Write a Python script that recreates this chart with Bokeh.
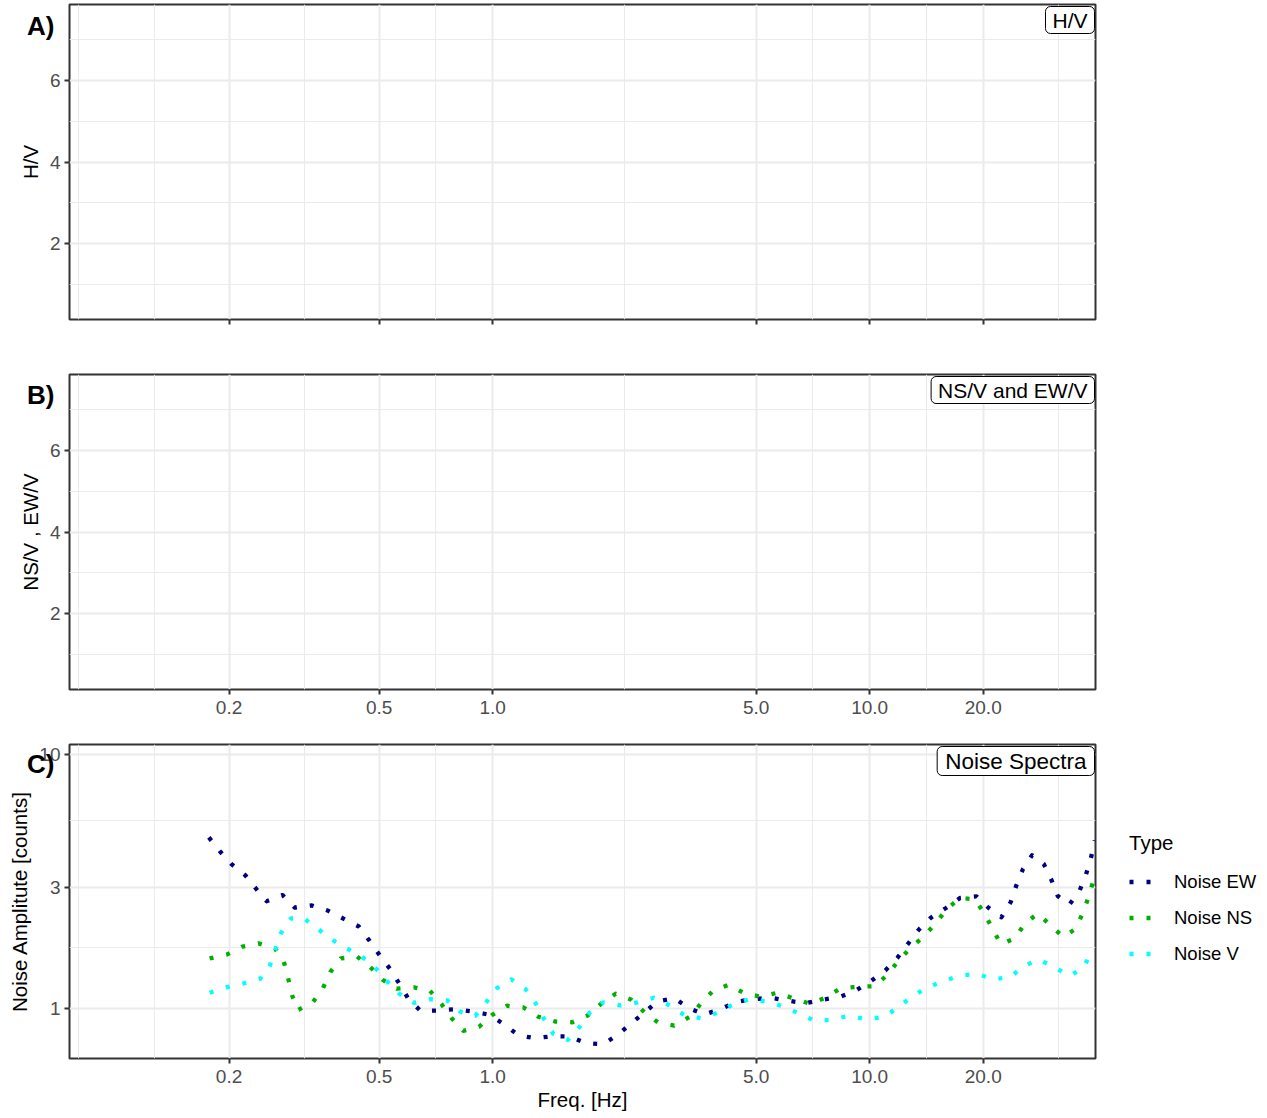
from bokeh.plotting import figure
from bokeh.models import (Range1d, FixedTicker, Label, Legend, LegendItem,
                          CustomJSTickFormatter, Div)
from bokeh.layouts import column
from bokeh.embed import file_html
from bokeh.resources import INLINE

FONT = "Liberation Sans"

# ---------------- data ----------------
x_major = [0.2, 0.5, 1, 5, 10, 20]
x_minor = [0.08, 0.1265, 0.3162, 0.7071, 2.236, 7.071, 14.14, 31.62]
ratio_major = [2, 4, 6]
ratio_minor = [1, 3, 5, 7]
amp_major = [1, 3, 10]
amp_minor = [1.732, 5.477]

freq_ew = [0.1768, 0.1891, 0.2031, 0.2208, 0.2361, 0.2515, 0.2773, 0.2990, 0.3317, 0.3666,
           0.4032, 0.4418, 0.4710, 0.5015, 0.5347, 0.5667, 0.5988, 0.6442, 0.7159, 0.7943,
           0.8850, 0.9818, 1.074, 1.170, 1.295, 1.440, 1.603, 1.768, 1.962, 2.146,
           2.333, 2.531, 2.745, 3.034, 3.311, 3.643, 4.025, 4.430, 4.915, 5.470,
           6.085, 6.766, 7.506, 8.341, 9.220, 10.10, 11.00, 11.85, 12.64, 13.49,
           14.54, 15.94, 17.36, 19.19, 20.69, 22.35, 23.66, 24.49, 25.50, 26.95,
           28.94, 30.34, 31.53, 33.86, 35.99, 37.48, 38.64, 39.53]
amp_ew = [4.70, 4.15, 3.69, 3.34, 2.95, 2.64, 2.79, 2.49, 2.54, 2.42,
          2.25, 2.10, 1.85, 1.62, 1.43, 1.246, 1.088, 0.979, 0.982, 0.994,
          0.973, 0.944, 0.865, 0.785, 0.764, 0.778, 0.776, 0.730, 0.723, 0.788,
          0.875, 0.967, 1.068, 1.098, 1.003, 0.947, 0.994, 1.063, 1.088, 1.102,
          1.072, 1.049, 1.082, 1.112, 1.180, 1.285, 1.411, 1.584, 1.797, 2.040,
          2.276, 2.483, 2.719, 2.760, 2.483, 2.282, 2.621, 3.050, 3.535, 4.003,
          3.700, 3.200, 2.768, 2.561, 2.896, 3.370, 3.921, 4.574]

freq_ns = [0.1776, 0.1970, 0.2168, 0.2394, 0.2646, 0.2796, 0.2871, 0.2942, 0.3045, 0.3337,
           0.3548, 0.3711, 0.3960, 0.4365, 0.4738, 0.5108, 0.5564, 0.6184, 0.6819, 0.7309,
           0.7784, 0.8362, 0.9198, 0.998, 1.091, 1.208, 1.322, 1.463, 1.627, 1.786,
           1.942, 2.120, 2.333, 2.526, 2.745, 3.034, 3.331, 3.568, 3.841, 4.235,
           4.640, 5.132, 5.691, 6.287, 6.943, 7.659, 8.378, 9.311, 10.33, 11.16,
           11.92, 12.82, 13.91, 14.94, 15.97, 17.33, 18.96, 20.18, 21.16, 22.30,
           24.29, 25.77, 27.90, 30.16, 32.56, 35.13, 36.73, 38.10, 39.21]
amp_ns = [1.573, 1.627, 1.750, 1.803, 1.723, 1.527, 1.309, 1.122, 0.985, 1.059,
          1.202, 1.390, 1.573, 1.602, 1.454, 1.297, 1.196, 1.210, 1.174, 1.043,
          0.916, 0.817, 0.847, 0.944, 1.025, 1.009, 0.928, 0.889, 0.883, 0.938,
          1.046, 1.143, 1.082, 0.967, 0.881, 0.857, 0.928, 1.046, 1.174, 1.240,
          1.149, 1.113, 1.153, 1.095, 1.043, 1.105, 1.202, 1.217, 1.224, 1.361,
          1.541, 1.727, 1.920, 2.156, 2.447, 2.719, 2.687, 2.360, 2.052, 1.791,
          1.886, 2.156, 2.360, 2.122, 1.915, 2.052, 2.372, 2.753, 3.200]

freq_v = [0.1776, 0.1966, 0.2182, 0.2419, 0.2562, 0.2657, 0.2751, 0.2924, 0.3151, 0.3433,
          0.3741, 0.4101, 0.4500, 0.4893, 0.5255, 0.5656, 0.6184, 0.6848, 0.7584, 0.8224,
          0.8996, 0.9623, 1.027, 1.123, 1.223, 1.300, 1.368, 1.449, 1.584, 1.701,
          1.808, 1.966, 2.185, 2.420, 2.679, 2.943, 3.217, 3.568, 3.952, 4.339,
          4.805, 5.332, 5.914, 6.522, 7.178, 7.943, 8.815, 9.800, 10.87, 11.85,
          12.93, 14.14, 15.65, 17.33, 19.22, 21.24, 23.56, 25.56, 28.07, 30.83,
          33.86, 36.80, 38.64]
amp_v = [1.153, 1.210, 1.254, 1.309, 1.467, 1.712, 1.986, 2.262, 2.268, 2.059,
         1.869, 1.723, 1.598, 1.441, 1.277, 1.143, 1.053, 1.088, 1.075, 0.970,
         0.936, 1.059, 1.202, 1.301, 1.191, 1.049, 0.911, 0.795, 0.753, 0.847,
         0.962, 1.056, 1.028, 1.056, 1.102, 1.028, 0.944, 0.916, 0.962, 1.037,
         1.088, 1.064, 1.018, 0.953, 0.891, 0.905, 0.936, 0.908, 0.924, 1.006,
         1.112, 1.206, 1.281, 1.345, 1.370, 1.305, 1.324, 1.467, 1.559, 1.454,
         1.345, 1.437, 1.657]

series_names = ["Noise EW", "Noise NS", "Noise V"]
series_colors = ["#000080", "#00B000", "#00FFFF"]

x_limits = (0.0755, 39.7)
ratio_limits = (0.15, 7.85)
amp_limits = (0.636, 10.9)

# ---------------- layout constants ----------------
FRAME_W = 1026
LEFT = 69
RIGHT = 168
GRID = "#EBEBEB"
DARK = "#333333"
TICK_SIZE = "19px"
TITLE_SIZE = "20.5px"


def make_fig(y_log, y_limits, y_major, y_minor, ylabel, frame_h, top, bottom,
             show_xlabels, xlabel=None, box_text="", box_size="21px", box_pad=(7, 2)):
    p = figure(x_axis_type="log", y_axis_type="log" if y_log else "linear",
               x_range=Range1d(*x_limits), y_range=Range1d(*y_limits),
               frame_width=FRAME_W, frame_height=frame_h,
               min_border_left=LEFT, min_border_right=RIGHT,
               min_border_top=top, min_border_bottom=bottom,
               output_backend="svg", toolbar_location=None, title=None)
    p.background_fill_color = "white"
    p.border_fill_color = "white"
    p.outline_line_color = DARK
    p.outline_line_width = 2

    p.xgrid.ticker = FixedTicker(ticks=x_major, minor_ticks=x_minor)
    p.ygrid.ticker = FixedTicker(ticks=y_major, minor_ticks=y_minor)
    for g in (p.xgrid[0], p.ygrid[0]):
        g.grid_line_color = GRID
        g.grid_line_width = 2
        g.minor_grid_line_color = GRID
        g.minor_grid_line_width = 1

    xa = p.xaxis[0]
    ya = p.yaxis[0]
    xa.ticker = FixedTicker(ticks=x_major)
    ya.ticker = FixedTicker(ticks=y_major)
    xa.formatter = CustomJSTickFormatter(code="return tick.toFixed(1)")
    if y_log:
        ya.formatter = CustomJSTickFormatter(code="return tick.toFixed(0)")
    for ax in (xa, ya):
        ax.axis_line_color = None
        ax.major_tick_line_color = DARK
        ax.major_tick_line_width = 2
        ax.major_tick_out = 5
        ax.major_tick_in = 0
        ax.minor_tick_line_color = None
        ax.major_label_text_font = FONT
        ax.major_label_text_font_size = TICK_SIZE
        ax.major_label_text_color = "#4D4D4D"
        ax.major_label_standoff = 4
        ax.axis_label_text_font = FONT
        ax.axis_label_text_font_size = TITLE_SIZE
        ax.axis_label_text_font_style = "normal"
        ax.axis_label_text_color = "black"
        ax.axis_label_standoff = 5
    xa.major_label_standoff = 6
    ya.axis_label = ylabel
    if not show_xlabels:
        xa.formatter = CustomJSTickFormatter(code="return ''")
        xa.major_label_standoff = 0
    if xlabel:
        xa.axis_label = xlabel
        xa.axis_label_standoff = 2

    p.add_layout(Label(x=FRAME_W - 1, y=frame_h - 2, x_units="screen", y_units="screen",
                       text=box_text, text_font=FONT, text_font_size=box_size,
                       text_align="right", text_baseline="top", text_color="black",
                       background_fill_color="white", border_line_color="black",
                       border_line_width=1, border_radius=5, padding=box_pad))
    return p


pa = make_fig(False, ratio_limits, ratio_major, ratio_minor, "H/V", 315, 4, 27,
              False, box_text="H/V")
pb = make_fig(False, ratio_limits, ratio_major, ratio_minor, "NS/V , EW/V", 315, 28, 33,
              True, box_text="NS/V and EW/V")
pc = make_fig(True, amp_limits, amp_major, amp_minor, "Noise Amplitute [counts]", 314, 22, 55,
              True, xlabel="Freq. [Hz]", box_text="Noise Spectra", box_size="22.5px",
              box_pad=(8, 2))

renderers = []
for fx, fy, col in ((freq_ew, amp_ew, series_colors[0]),
                    (freq_ns, amp_ns, series_colors[1]),
                    (freq_v, amp_v, series_colors[2])):
    r = pc.line(fx, fy, line_color=col, line_width=4.3, line_dash="4 13",
                line_cap="butt", line_join="round")
    renderers.append(r)

legend = Legend(items=[LegendItem(label=n, renderers=[r]) for n, r in zip(series_names, renderers)],
                title="Type", location="center_left")
legend.title_text_font = FONT
legend.title_text_font_size = TITLE_SIZE
legend.title_text_font_style = "normal"
legend.title_text_color = "black"
legend.title_standoff = 9
legend.label_text_font = FONT
legend.label_text_font_size = "18.5px"
legend.label_text_color = "black"
legend.glyph_width = 32
legend.glyph_height = 36
legend.label_height = 36
legend.label_standoff = 13
legend.spacing = 0
legend.padding = 3
legend.margin = 34
legend.border_line_color = None
legend.background_fill_alpha = 0
pc.add_layout(legend, "right")


def tag(text, left, top):
    html = ('<span style="font-family: \'Liberation Sans\', Arial, sans-serif; '
            'font-size: 26px; font-weight: bold; color: black; line-height: 30px; '
            'white-space: nowrap;">' + text + '</span>')
    return Div(text=html, width=40, height=30,
               styles={"position": "absolute", "left": f"{left}px", "top": f"{top}px",
                       "z-index": "10", "margin": "0", "padding": "0"})


tags = [tag("A)", 27, 11), tag("B)", 27, 380), tag("C)", 27, 749)]

layout = column(pa, pb, pc, *tags, spacing=0)
open("out.html", "w").write(file_html(layout, INLINE))
